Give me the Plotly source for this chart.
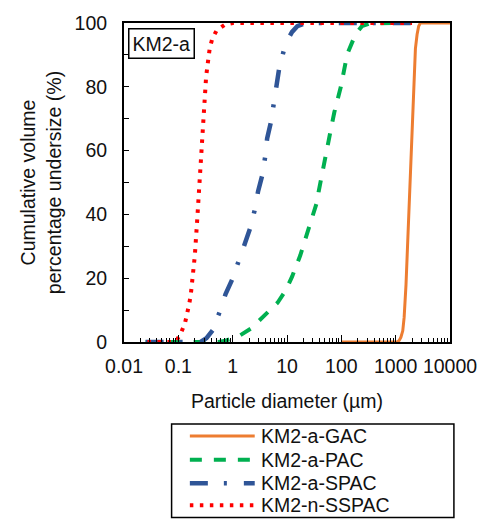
import plotly.graph_objects as go

# ---- data ----
gac_d = [100, 500, 1000, 1100, 1164, 1250, 1350, 1432, 1550, 1650, 1759, 1900, 2074, 2200, 2310, 2478, 2650, 2840, 5000, 10000]
gac_v = [0, 0, 0, 0.1, 0.5, 1.5, 3.5, 7.7, 18, 30, 43, 58, 74, 85, 92, 96.4, 99, 100, 100, 100]

pac_d = [0.025, 0.1, 0.3, 0.55, 0.74, 1.29, 2.16, 4.74, 6.70, 9.44, 12.4, 17.5, 20.9, 24.7, 29.1, 34.9, 38.4, 42.9,
         47.2, 52.7, 58.7, 64.9, 74.3, 97.9, 128.6, 182, 239, 338, 500, 1000, 2000]
pac_v = [0, 0, 0, 0, 0.4, 1.8, 4.2, 9.8, 12.3, 16.1, 20.5, 27.1, 31.4, 35, 39.4, 43.4, 47.3, 51.1,
         55.1, 59.2, 63.3, 67.1, 72, 80, 90.3, 96.4, 99, 99.9, 100, 100, 100]

spac_d = [0.025, 0.1, 0.2, 0.257, 0.33, 0.428, 0.578, 0.74, 0.975, 1.32, 1.69, 2.08, 2.55, 2.94, 3.51, 3.97, 4.31,
          5.08, 5.68, 6.25, 7.16, 8.8, 10.5, 12.4, 15.5, 19.8, 30, 100, 1000, 2000]
spac_v = [0, 0, 0, 0, 1.2, 3.7, 9.5, 15, 19.5, 25.3, 31, 35.5, 41.4, 47.3, 52.3, 58.1, 63.8,
          69.1, 74.8, 81.1, 85.7, 91.6, 95, 97.2, 99, 99.7, 100, 100, 100, 100]

sspac_d = [0.027, 0.05, 0.08, 0.093, 0.113, 0.133, 0.148, 0.159, 0.170, 0.185, 0.201, 0.22, 0.237, 0.26, 0.283,
           0.303, 0.324, 0.358, 0.378, 0.42, 0.504, 0.72, 1.0, 10, 100, 1000, 2000]
sspac_v = [0, 0, 0, 0.5, 3, 6, 9, 12, 15, 21, 27, 37, 46, 58, 70,
           76.5, 83, 89, 92, 95, 97.6, 99.5, 100, 100, 100, 100, 100]

names = ["KM2-a-GAC", "KM2-a-PAC", "KM2-a-SPAC", "KM2-n-SSPAC"]
colors = ["#ED7D31", "#00B050", "#2F5597", "#FF0000"]
dashes = ["solid", "12px,12px", "18px,16px,3px,17px", "3.5px,6.5px"]
widths = [3, 4, 4.5, 4]

x_tickvals = [0.01, 0.1, 1, 10, 100, 1000, 10000]
x_ticktext = ["0.01", "0.1", "1", "10", "100", "1000", "10000"]

FONT = "Arial, Liberation Sans, sans-serif"
FS = 19.5

fig = go.Figure()
series = [(gac_d, gac_v), (pac_d, pac_v), (spac_d, spac_v), (sspac_d, sspac_v)]
for (d, v), n, c, ds, w in zip(series, names, colors, dashes, widths):
    fig.add_trace(go.Scatter(x=d, y=v, mode="lines", name=n,
                             line=dict(color=c, dash=ds, width=w), showlegend=False))

fig.update_layout(
    width=489, height=524,
    margin=dict(l=124, r=30, t=15, b=182),
    paper_bgcolor="white", plot_bgcolor="white",
    font=dict(family=FONT, size=FS, color="#111111"),
    showlegend=False,
)

fig.update_xaxes(
    type="log", range=[-2, 4],
    tickmode="array", tickvals=x_tickvals, ticktext=x_ticktext,
    ticks="inside", ticklen=7, tickwidth=1.2, tickcolor="black",
    minor=dict(ticks="inside", ticklen=4, tickwidth=1, tickcolor="black", dtick="D1", showgrid=False),
    showline=True, linecolor="black", linewidth=2, mirror=True,
    showgrid=False, zeroline=False,
    ticklabelstandoff=6,
    title=dict(text="Particle diameter (µm)", font=dict(size=FS), standoff=18),
)
fig.update_yaxes(
    range=[0, 100], dtick=20, tick0=0,
    ticks="inside", ticklen=5, tickwidth=1.2, tickcolor="black",
    minor=dict(ticks="inside", ticklen=5, tickwidth=1.2, tickcolor="black", dtick=10, showgrid=False),
    showline=True, linecolor="black", linewidth=2, mirror=True,
    showgrid=False, zeroline=False,
    ticklabelstandoff=11,
    title=dict(text="Cumulative volume<br>percentage undersize (%)", font=dict(size=FS), standoff=8),
)

# panel label
fig.add_annotation(xref="paper", yref="paper", x=0.012, y=0.983, xanchor="left", yanchor="top",
                   text="KM2-a", showarrow=False, font=dict(size=FS, color="#111111"),
                   bordercolor="black", borderwidth=1.5, borderpad=3, bgcolor="white")

# custom legend (box, sample lines, labels)
fig.add_shape(type="rect", xref="paper", yref="paper", x0=0.146, x1=1.012, y0=-0.550, y1=-0.257,
              line=dict(color="black", width=1.5), fillcolor="white")
rows = [-0.2945, -0.3691, -0.4425, -0.5117]
for n, c, ds, w, yy in zip(names, colors, dashes, widths, rows):
    fig.add_shape(type="line", xref="paper", yref="paper", x0=0.202, x1=0.401, y0=yy, y1=yy,
                  line=dict(color=c, dash=ds, width=w))
    fig.add_annotation(xref="paper", yref="paper", x=0.415, y=yy, xanchor="left", yanchor="middle",
                       text=n, showarrow=False, font=dict(size=FS, color="#111111"))

fig.write_html("out.html")
